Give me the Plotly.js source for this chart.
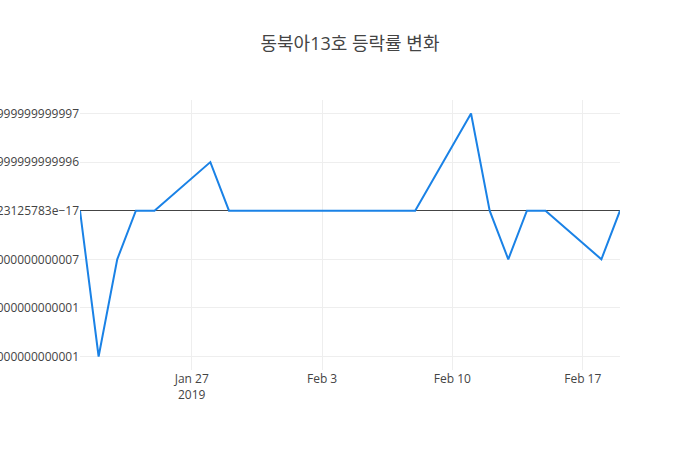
<!DOCTYPE html>
<html>
<head>
<meta charset="utf-8">
<script src="https://cdn.plot.ly/plotly-3.0.1.min.js"></script>
<style>
  html, body { margin: 0; padding: 0; background: #fff; }
  #chart { width: 700px; height: 450px; }
</style>
</head>
<body>
<div id="chart"></div>
<script>
// ------------------------------------------------------------------------------
// DATA

const dates = [
    '2019-01-21', '2019-01-22', '2019-01-23', '2019-01-24', '2019-01-25',
    '2019-01-28', '2019-01-29', '2019-01-30', '2019-01-31', '2019-02-01',
    '2019-02-07', '2019-02-08', '2019-02-11', '2019-02-12', '2019-02-13',
    '2019-02-14', '2019-02-15', '2019-02-18', '2019-02-19'
];

const rates = [
    0, -0.3, -0.1, 0, 0,
    0.1, 0, 0, 0, 0,
    0, 0, 0.2, 0, -0.1,
    0, 0, -0.1, 0
];

const y_tickvals = [0.2, 0.1, 0, -0.1, -0.2, -0.3];
const y_ticktext = [
    '0.19999999999999997',
    '0.09999999999999996',
    '\u22125.551115123125783e\u221217',
    '\u22120.10000000000000007',
    '\u22120.2000000000000001',
    '\u22120.3000000000000001'
];

// ------------------------------------------------------------------------------
// PLOT

const font_family = '"Open Sans", "Noto Sans CJK KR", verdana, arial, sans-serif';

const trace = {
    x: dates,
    y: rates,
    type: 'scatter',
    mode: 'lines',
    line: {
        color: '#1a82e6',
        width: 2
    }
};

const layout = {
    width: 700,
    height: 450,
    font: {
        family: font_family,
        color: '#444'
    },
    title: {
        text: '동북아13호 등락률 변화',
        font: {
            family: font_family,
            size: 18
        }
    },
    margin: { l: 80, r: 80, t: 100, b: 80 },
    xaxis: {
        type: 'date',
        gridcolor: '#eee',
        zeroline: false
    },
    yaxis: {
        tickmode: 'array',
        tickvals: y_tickvals,
        ticktext: y_ticktext,
        gridcolor: '#eee',
        zeroline: true,
        zerolinecolor: '#444',
        zerolinewidth: 1
    },
    showlegend: false
};

Plotly.newPlot('chart', [trace], layout, { displayModeBar: false, staticPlot: true });
</script>
</body>
</html>
